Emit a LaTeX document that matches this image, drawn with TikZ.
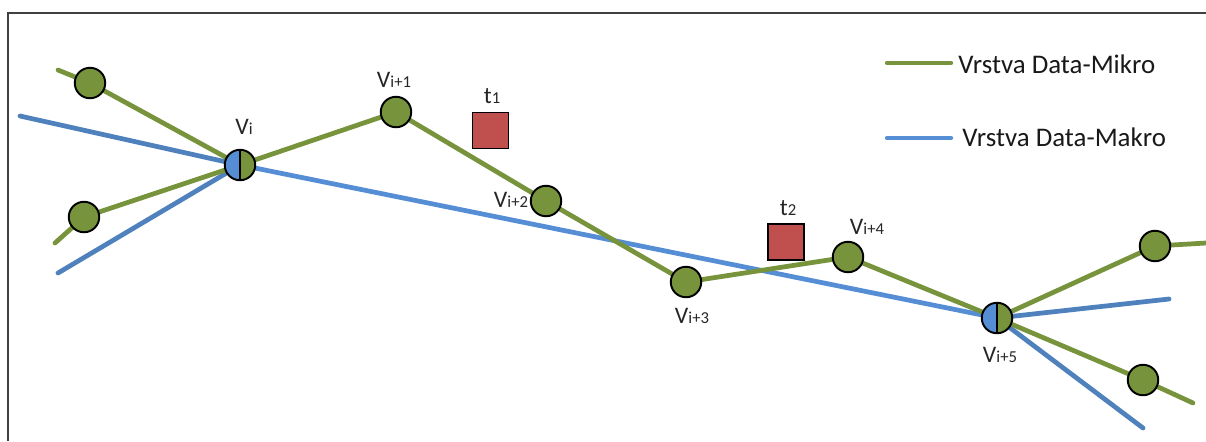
\documentclass[tikz,border=0pt]{standalone}
\usepackage{fontspec}
\setmainfont{Carlito}
\usetikzlibrary{backgrounds}
\definecolor{mgreen}{HTML}{77933C}
\definecolor{mblue}{HTML}{558ED5}
\definecolor{sblue}{HTML}{4F81BD}
\definecolor{mred}{HTML}{C0504D}
\newcommand{\vlab}[1]{{\fontsize{13.5}{15}\selectfont V}{\fontsize{9.5}{10}\selectfont #1}}
\newcommand{\tlab}[1]{{\fontsize{13.5}{15}\selectfont t}{\fontsize{9.5}{10}\selectfont #1}}
\begin{document}
\begin{tikzpicture}[x=0.02cm,y=-0.02cm,
  vert/.style={circle,draw=black,line width=1.1pt,fill=mgreen,minimum size=0.61cm,inner sep=0pt},
  splitv/.style={vert,path picture={
     \fill[mblue] (path picture bounding box.south west) rectangle (path picture bounding box.north);
     \draw[black,line width=1.1pt] (path picture bounding box.north) -- (path picture bounding box.south);}},
  tbox/.style={rectangle,draw=black,line width=0.9pt,fill=mred,minimum size=0.72cm,inner sep=0pt},
  gline/.style={draw=mgreen,line width=2.7pt,line cap=round},
  bline/.style={draw=mblue,line width=2.7pt,line cap=round},
  sline/.style={draw=sblue,line width=2.7pt,line cap=round},
  lab/.style={inner sep=0pt,text=black!85},
  legtext/.style={inner sep=0pt,anchor=west,font=\fontsize{15.3}{17}\selectfont,text=black!90}]
\useasboundingbox (0,0) rectangle (1206,441);
\draw[black!75,line width=1.1pt] (8,441) -- (8,13) -- (1206,13);

% vertices
\node[splitv] (vi) at (240,165) {};
\node[vert] (v1) at (396,112) {};
\node[vert] (v2) at (546,201) {};
\node[vert] (v3) at (686,282) {};
\node[vert] (v4) at (848,257) {};
\node[splitv] (v5) at (997,318) {};
\node[vert] (la) at (90,83) {};
\node[vert] (lb) at (84,217) {};
\node[vert] (ra) at (1155,246) {};
\node[vert] (rb) at (1143,380) {};

% free ends
\coordinate (ga) at (58,70);
\coordinate (gb) at (55,243);
\coordinate (ba) at (20,116);
\coordinate (bb) at (58,273);
\coordinate (gc) at (1206,243);
\coordinate (gd) at (1193,403);
\coordinate (bc) at (1169,299);
\coordinate (bd) at (1143,428);

% boxes
\node[tbox] (t1) at (490.5,130.5) {};
\node[tbox] (t2) at (786,242) {};

% labels
\node[lab] at (244,127) {\vlab{i}};
\node[lab] at (394,80) {\vlab{i+1}};
\node[lab] at (511,200) {\vlab{i+2}};
\node[lab] at (692,316) {\vlab{i+3}};
\node[lab] at (867,227) {\vlab{i+4}};
\node[lab] at (1000,355) {\vlab{i+5}};
\node[lab] at (492,96) {\tlab{1}};
\node[lab] at (788,208) {\tlab{2}};

% legend
\coordinate (lg1) at (887,63);
\coordinate (lg2) at (951,63);
\coordinate (lb1) at (887,138);
\coordinate (lb2) at (951,138);
\draw[gline,line width=2.4pt] (lg1) -- (lg2);
\draw[bline,line width=2.4pt] (lb1) -- (lb2);
\node[legtext] at (958,64) {Vrstva Data-Mikro};
\node[legtext] at (962,137) {Vrstva Data-Makro};

\begin{scope}[on background layer]
  \draw[sline] (ba) -- (vi.center);
  \draw[sline] (bb) -- (vi.center);
  \draw[gline] (ga) -- (la.center) -- (vi.center);
  \draw[gline] (gb) -- (lb.center) -- (vi.center);
  \draw[bline] (vi.center) -- (v5.center);
  \draw[gline] (vi.center) -- (v1.center) -- (v2.center) -- (v3.center) -- (v4.center) -- (v5.center);
  \draw[sline] (v5.center) -- (bc);
  \draw[sline] (v5.center) -- (bd);
  \draw[gline] (v5.center) -- (ra.center) -- (gc);
  \draw[gline] (v5.center) -- (rb.center) -- (gd);
\end{scope}
\end{tikzpicture}
\end{document}
